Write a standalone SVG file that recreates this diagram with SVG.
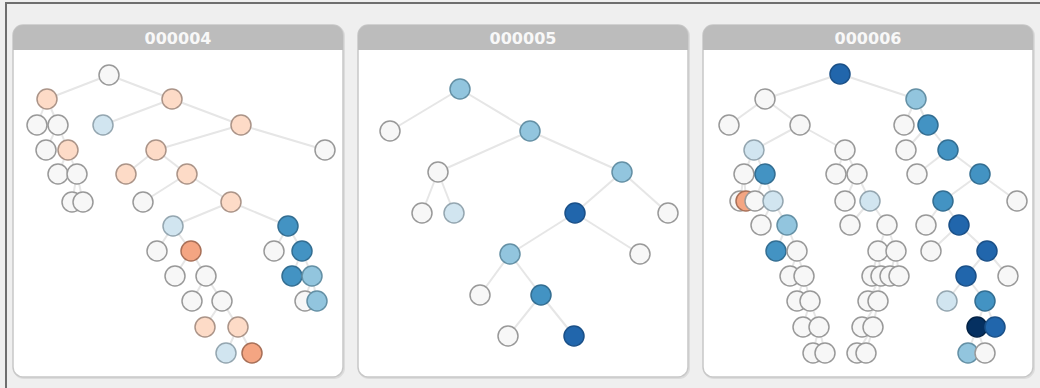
<svg xmlns="http://www.w3.org/2000/svg" width="1040" height="388" viewBox="0 0 1040 388">
<style>
.bg{fill:#efefef}
.frame{fill:none;stroke:#6e6e6e;stroke-width:2}
.panel{fill:#fff;stroke:#c8c8c8;stroke-width:1.5}
.shadow{fill:none;stroke:#dcdcdc;stroke-width:2}
.hdr{fill:#bcbcbc}
.ttl{font-family:"DejaVu Sans",Verdana,sans-serif;font-weight:bold;font-size:16px;fill:#f8f8f8;text-anchor:middle}
#connectors line{stroke:#e6e6e6;stroke-width:2}
circle{stroke:#999;stroke-width:1.5}
.w{fill:#f7f7f7}
.o1{fill:#fddbc7;stroke:#ab9488}
.o2{fill:#f4a582;stroke:#a87058}
.b1{fill:#d1e5f0;stroke:#94a6b0}
.b2{fill:#92c5de;stroke:#6490a5}
.b3{fill:#4393c3;stroke:#336e92}
.b4{fill:#2166ac;stroke:#1a5088}
.b5{fill:#053061;stroke:#032245}
</style>
<rect class="bg" x="0" y="0" width="1040" height="388"/>
<path class="frame" d="M6,388 V3 H1040"/>
<g id="panel-000004">
<rect class="shadow" x="14" y="26" width="330" height="352" rx="10"/>
<rect class="panel" x="13" y="25" width="330" height="352" rx="10"/>
<path class="hdr" d="M13,50 V35 a10,10 0 0 1 10,-10 H333 a10,10 0 0 1 10,10 V50 Z"/>
<text class="ttl" x="178" y="44">000004</text>
</g>
<g id="panel-000005">
<rect class="shadow" x="359" y="26" width="330" height="352" rx="10"/>
<rect class="panel" x="358" y="25" width="330" height="352" rx="10"/>
<path class="hdr" d="M358,50 V35 a10,10 0 0 1 10,-10 H678 a10,10 0 0 1 10,10 V50 Z"/>
<text class="ttl" x="523" y="44">000005</text>
</g>
<g id="panel-000006">
<rect class="shadow" x="704" y="26" width="330" height="352" rx="10"/>
<rect class="panel" x="703" y="25" width="330" height="352" rx="10"/>
<path class="hdr" d="M703,50 V35 a10,10 0 0 1 10,-10 H1023 a10,10 0 0 1 10,10 V50 Z"/>
<text class="ttl" x="868" y="44">000006</text>
</g>
<g id="connectors">
<line x1="109" y1="75" x2="47" y2="99"/><line x1="109" y1="75" x2="172" y2="99"/>
<line x1="47" y1="99" x2="37" y2="125"/><line x1="47" y1="99" x2="58" y2="125"/>
<line x1="58" y1="125" x2="46" y2="150"/><line x1="58" y1="125" x2="68" y2="150"/>
<line x1="68" y1="150" x2="58" y2="174"/><line x1="68" y1="150" x2="77" y2="174"/>
<line x1="77" y1="174" x2="72" y2="202"/><line x1="77" y1="174" x2="83" y2="202"/>
<line x1="172" y1="99" x2="103" y2="125"/><line x1="172" y1="99" x2="241" y2="125"/>
<line x1="241" y1="125" x2="156" y2="150"/><line x1="241" y1="125" x2="325" y2="150"/>
<line x1="156" y1="150" x2="126" y2="174"/><line x1="156" y1="150" x2="187" y2="174"/>
<line x1="187" y1="174" x2="143" y2="202"/><line x1="187" y1="174" x2="231" y2="202"/>
<line x1="231" y1="202" x2="173" y2="226"/><line x1="231" y1="202" x2="288" y2="226"/>
<line x1="173" y1="226" x2="157" y2="251"/><line x1="173" y1="226" x2="191" y2="251"/>
<line x1="288" y1="226" x2="274" y2="251"/><line x1="288" y1="226" x2="302" y2="251"/>
<line x1="191" y1="251" x2="175" y2="276"/><line x1="191" y1="251" x2="206" y2="276"/>
<line x1="302" y1="251" x2="292" y2="276"/><line x1="302" y1="251" x2="312" y2="276"/>
<line x1="206" y1="276" x2="192" y2="301"/><line x1="206" y1="276" x2="222" y2="301"/>
<line x1="312" y1="276" x2="305" y2="301"/><line x1="312" y1="276" x2="317" y2="301"/>
<line x1="222" y1="301" x2="205" y2="327"/><line x1="222" y1="301" x2="238" y2="327"/>
<line x1="238" y1="327" x2="226" y2="353"/><line x1="238" y1="327" x2="252" y2="353"/>

<line x1="460" y1="89" x2="390" y2="131"/><line x1="460" y1="89" x2="530" y2="131"/>
<line x1="530" y1="131" x2="438" y2="172"/><line x1="530" y1="131" x2="622" y2="172"/>
<line x1="438" y1="172" x2="422" y2="213"/><line x1="438" y1="172" x2="454" y2="213"/>
<line x1="622" y1="172" x2="575" y2="213"/><line x1="622" y1="172" x2="668" y2="213"/>
<line x1="575" y1="213" x2="510" y2="254"/><line x1="575" y1="213" x2="640" y2="254"/>
<line x1="510" y1="254" x2="480" y2="295"/><line x1="510" y1="254" x2="541" y2="295"/>
<line x1="541" y1="295" x2="508" y2="336"/><line x1="541" y1="295" x2="574" y2="336"/>

<line x1="840" y1="74" x2="765" y2="99"/><line x1="840" y1="74" x2="916" y2="99"/>
<line x1="765" y1="99" x2="729" y2="125"/><line x1="765" y1="99" x2="800" y2="125"/>
<line x1="800" y1="125" x2="754" y2="150"/><line x1="800" y1="125" x2="845" y2="150"/>
<line x1="754" y1="150" x2="744" y2="174"/><line x1="754" y1="150" x2="765" y2="174"/>
<line x1="744" y1="174" x2="740" y2="201"/><line x1="744" y1="174" x2="746" y2="201"/>
<line x1="765" y1="174" x2="755" y2="201"/><line x1="765" y1="174" x2="773" y2="201"/>
<line x1="773" y1="201" x2="761" y2="225"/><line x1="773" y1="201" x2="787" y2="225"/>
<line x1="787" y1="225" x2="776" y2="251"/><line x1="787" y1="225" x2="797" y2="251"/>
<line x1="797" y1="251" x2="790" y2="276"/><line x1="797" y1="251" x2="804" y2="276"/>
<line x1="804" y1="276" x2="797" y2="301"/><line x1="804" y1="276" x2="810" y2="301"/>
<line x1="810" y1="301" x2="803" y2="327"/><line x1="810" y1="301" x2="819" y2="327"/>
<line x1="819" y1="327" x2="813" y2="353"/><line x1="819" y1="327" x2="825" y2="353"/>
<line x1="845" y1="150" x2="836" y2="174"/><line x1="845" y1="150" x2="857" y2="174"/>
<line x1="857" y1="174" x2="845" y2="201"/><line x1="857" y1="174" x2="870" y2="201"/>
<line x1="870" y1="201" x2="850" y2="225"/><line x1="870" y1="201" x2="887" y2="225"/>
<line x1="887" y1="225" x2="878" y2="251"/><line x1="887" y1="225" x2="896" y2="251"/>
<line x1="878" y1="251" x2="872" y2="276"/><line x1="878" y1="251" x2="881" y2="276"/>
<line x1="896" y1="251" x2="890" y2="276"/><line x1="896" y1="251" x2="899" y2="276"/>
<line x1="881" y1="276" x2="868" y2="301"/><line x1="881" y1="276" x2="878" y2="301"/>
<line x1="878" y1="301" x2="862" y2="327"/><line x1="878" y1="301" x2="873" y2="327"/>
<line x1="873" y1="327" x2="857" y2="353"/><line x1="873" y1="327" x2="866" y2="353"/>
<line x1="916" y1="99" x2="904" y2="125"/><line x1="916" y1="99" x2="928" y2="125"/>
<line x1="928" y1="125" x2="906" y2="150"/><line x1="928" y1="125" x2="948" y2="150"/>
<line x1="948" y1="150" x2="917" y2="174"/><line x1="948" y1="150" x2="980" y2="174"/>
<line x1="980" y1="174" x2="943" y2="201"/><line x1="980" y1="174" x2="1017" y2="201"/>
<line x1="943" y1="201" x2="926" y2="225"/><line x1="943" y1="201" x2="959" y2="225"/>
<line x1="959" y1="225" x2="931" y2="251"/><line x1="959" y1="225" x2="987" y2="251"/>
<line x1="987" y1="251" x2="966" y2="276"/><line x1="987" y1="251" x2="1008" y2="276"/>
<line x1="966" y1="276" x2="947" y2="301"/><line x1="966" y1="276" x2="985" y2="301"/>
<line x1="985" y1="301" x2="977" y2="327"/><line x1="985" y1="301" x2="995" y2="327"/>
<line x1="977" y1="327" x2="968" y2="353"/><line x1="977" y1="327" x2="985" y2="353"/>
</g>
<g id="nodes-000004">
<g id="a1"><circle class="w" cx="109" cy="75" r="10"/></g>
<g id="a2"><circle class="o1" cx="47" cy="99" r="10"/></g>
<g id="a3"><circle class="o1" cx="172" cy="99" r="10"/></g>
<g id="a4"><circle class="w" cx="37" cy="125" r="10"/></g>
<g id="a5"><circle class="w" cx="58" cy="125" r="10"/></g>
<g id="a6"><circle class="b1" cx="103" cy="125" r="10"/></g>
<g id="a7"><circle class="o1" cx="241" cy="125" r="10"/></g>
<g id="a8"><circle class="w" cx="46" cy="150" r="10"/></g>
<g id="a9"><circle class="o1" cx="68" cy="150" r="10"/></g>
<g id="a10"><circle class="o1" cx="156" cy="150" r="10"/></g>
<g id="a11"><circle class="w" cx="325" cy="150" r="10"/></g>
<g id="a12"><circle class="w" cx="58" cy="174" r="10"/></g>
<g id="a13"><circle class="w" cx="77" cy="174" r="10"/></g>
<g id="a14"><circle class="o1" cx="126" cy="174" r="10"/></g>
<g id="a15"><circle class="o1" cx="187" cy="174" r="10"/></g>
<g id="a16"><circle class="w" cx="72" cy="202" r="10"/></g>
<g id="a17"><circle class="w" cx="83" cy="202" r="10"/></g>
<g id="a18"><circle class="w" cx="143" cy="202" r="10"/></g>
<g id="a19"><circle class="o1" cx="231" cy="202" r="10"/></g>
<g id="a20"><circle class="b1" cx="173" cy="226" r="10"/></g>
<g id="a21"><circle class="b3" cx="288" cy="226" r="10"/></g>
<g id="a22"><circle class="w" cx="157" cy="251" r="10"/></g>
<g id="a23"><circle class="o2" cx="191" cy="251" r="10"/></g>
<g id="a24"><circle class="w" cx="274" cy="251" r="10"/></g>
<g id="a25"><circle class="b3" cx="302" cy="251" r="10"/></g>
<g id="a26"><circle class="w" cx="175" cy="276" r="10"/></g>
<g id="a27"><circle class="w" cx="206" cy="276" r="10"/></g>
<g id="a28"><circle class="b3" cx="292" cy="276" r="10"/></g>
<g id="a29"><circle class="b2" cx="312" cy="276" r="10"/></g>
<g id="a30"><circle class="w" cx="192" cy="301" r="10"/></g>
<g id="a31"><circle class="w" cx="222" cy="301" r="10"/></g>
<g id="a32"><circle class="w" cx="305" cy="301" r="10"/></g>
<g id="a33"><circle class="b2" cx="317" cy="301" r="10"/></g>
<g id="a34"><circle class="o1" cx="205" cy="327" r="10"/></g>
<g id="a35"><circle class="o1" cx="238" cy="327" r="10"/></g>
<g id="a36"><circle class="b1" cx="226" cy="353" r="10"/></g>
<g id="a37"><circle class="o2" cx="252" cy="353" r="10"/></g>
</g>
<g id="nodes-000005">
<g id="b1"><circle class="b2" cx="460" cy="89" r="10"/></g>
<g id="b2"><circle class="w" cx="390" cy="131" r="10"/></g>
<g id="b3"><circle class="b2" cx="530" cy="131" r="10"/></g>
<g id="b4"><circle class="w" cx="438" cy="172" r="10"/></g>
<g id="b5"><circle class="b2" cx="622" cy="172" r="10"/></g>
<g id="b6"><circle class="w" cx="422" cy="213" r="10"/></g>
<g id="b7"><circle class="b1" cx="454" cy="213" r="10"/></g>
<g id="b8"><circle class="b4" cx="575" cy="213" r="10"/></g>
<g id="b9"><circle class="w" cx="668" cy="213" r="10"/></g>
<g id="b10"><circle class="b2" cx="510" cy="254" r="10"/></g>
<g id="b11"><circle class="w" cx="640" cy="254" r="10"/></g>
<g id="b12"><circle class="w" cx="480" cy="295" r="10"/></g>
<g id="b13"><circle class="b3" cx="541" cy="295" r="10"/></g>
<g id="b14"><circle class="w" cx="508" cy="336" r="10"/></g>
<g id="b15"><circle class="b4" cx="574" cy="336" r="10"/></g>
</g>
<g id="nodes-000006">
<g id="c1"><circle class="b4" cx="840" cy="74" r="10"/></g>
<g id="c2"><circle class="w" cx="765" cy="99" r="10"/></g>
<g id="c3"><circle class="b2" cx="916" cy="99" r="10"/></g>
<g id="c4"><circle class="w" cx="729" cy="125" r="10"/></g>
<g id="c5"><circle class="w" cx="800" cy="125" r="10"/></g>
<g id="c6"><circle class="w" cx="904" cy="125" r="10"/></g>
<g id="c7"><circle class="b3" cx="928" cy="125" r="10"/></g>
<g id="c8"><circle class="b1" cx="754" cy="150" r="10"/></g>
<g id="c9"><circle class="w" cx="845" cy="150" r="10"/></g>
<g id="c10"><circle class="w" cx="906" cy="150" r="10"/></g>
<g id="c11"><circle class="b3" cx="948" cy="150" r="10"/></g>
<g id="c12"><circle class="w" cx="744" cy="174" r="10"/></g>
<g id="c13"><circle class="b3" cx="765" cy="174" r="10"/></g>
<g id="c14"><circle class="w" cx="836" cy="174" r="10"/></g>
<g id="c15"><circle class="w" cx="857" cy="174" r="10"/></g>
<g id="c16"><circle class="w" cx="917" cy="174" r="10"/></g>
<g id="c17"><circle class="b3" cx="980" cy="174" r="10"/></g>
<g id="c18"><circle class="w" cx="740" cy="201" r="10"/></g>
<g id="c19"><circle class="o2" cx="746" cy="201" r="10"/></g>
<g id="c20"><circle class="w" cx="755" cy="201" r="10"/></g>
<g id="c21"><circle class="b1" cx="773" cy="201" r="10"/></g>
<g id="c22"><circle class="w" cx="845" cy="201" r="10"/></g>
<g id="c23"><circle class="b1" cx="870" cy="201" r="10"/></g>
<g id="c24"><circle class="b3" cx="943" cy="201" r="10"/></g>
<g id="c25"><circle class="w" cx="1017" cy="201" r="10"/></g>
<g id="c26"><circle class="w" cx="761" cy="225" r="10"/></g>
<g id="c27"><circle class="b2" cx="787" cy="225" r="10"/></g>
<g id="c28"><circle class="w" cx="850" cy="225" r="10"/></g>
<g id="c29"><circle class="w" cx="887" cy="225" r="10"/></g>
<g id="c30"><circle class="w" cx="926" cy="225" r="10"/></g>
<g id="c31"><circle class="b4" cx="959" cy="225" r="10"/></g>
<g id="c32"><circle class="b3" cx="776" cy="251" r="10"/></g>
<g id="c33"><circle class="w" cx="797" cy="251" r="10"/></g>
<g id="c34"><circle class="w" cx="878" cy="251" r="10"/></g>
<g id="c35"><circle class="w" cx="896" cy="251" r="10"/></g>
<g id="c36"><circle class="w" cx="931" cy="251" r="10"/></g>
<g id="c37"><circle class="b4" cx="987" cy="251" r="10"/></g>
<g id="c38"><circle class="w" cx="790" cy="276" r="10"/></g>
<g id="c39"><circle class="w" cx="804" cy="276" r="10"/></g>
<g id="c40"><circle class="w" cx="872" cy="276" r="10"/></g>
<g id="c41"><circle class="w" cx="881" cy="276" r="10"/></g>
<g id="c42"><circle class="w" cx="890" cy="276" r="10"/></g>
<g id="c43"><circle class="w" cx="899" cy="276" r="10"/></g>
<g id="c44"><circle class="b4" cx="966" cy="276" r="10"/></g>
<g id="c45"><circle class="w" cx="1008" cy="276" r="10"/></g>
<g id="c46"><circle class="w" cx="797" cy="301" r="10"/></g>
<g id="c47"><circle class="w" cx="810" cy="301" r="10"/></g>
<g id="c48"><circle class="w" cx="868" cy="301" r="10"/></g>
<g id="c49"><circle class="w" cx="878" cy="301" r="10"/></g>
<g id="c50"><circle class="b1" cx="947" cy="301" r="10"/></g>
<g id="c51"><circle class="b3" cx="985" cy="301" r="10"/></g>
<g id="c52"><circle class="w" cx="803" cy="327" r="10"/></g>
<g id="c53"><circle class="w" cx="819" cy="327" r="10"/></g>
<g id="c54"><circle class="w" cx="862" cy="327" r="10"/></g>
<g id="c55"><circle class="w" cx="873" cy="327" r="10"/></g>
<g id="c56"><circle class="b5" cx="977" cy="327" r="10"/></g>
<g id="c57"><circle class="b4" cx="995" cy="327" r="10"/></g>
<g id="c58"><circle class="w" cx="813" cy="353" r="10"/></g>
<g id="c59"><circle class="w" cx="825" cy="353" r="10"/></g>
<g id="c60"><circle class="w" cx="857" cy="353" r="10"/></g>
<g id="c61"><circle class="w" cx="866" cy="353" r="10"/></g>
<g id="c62"><circle class="b2" cx="968" cy="353" r="10"/></g>
<g id="c63"><circle class="w" cx="985" cy="353" r="10"/></g>
</g>
</svg>
